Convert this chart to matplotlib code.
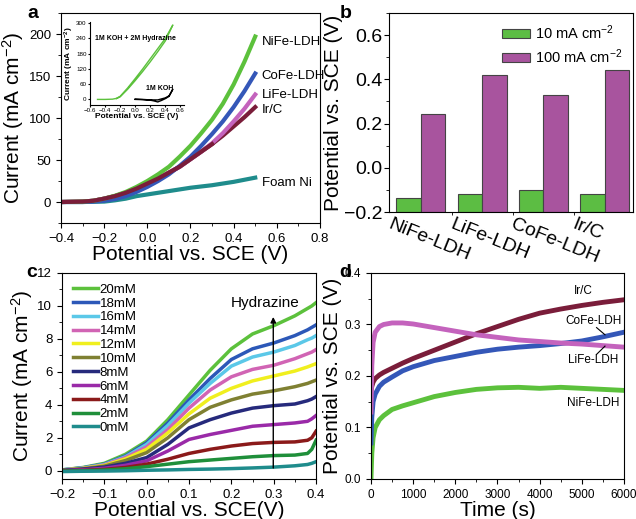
import numpy as np
import matplotlib
matplotlib.use("Agg")
import matplotlib.pyplot as plt
from matplotlib.ticker import MultipleLocator

plt.rcParams['font.family'] = ['Liberation Sans', 'DejaVu Sans']
plt.rcParams['mathtext.default'] = 'regular'
plt.rcParams['xtick.direction'] = 'out'
plt.rcParams['ytick.direction'] = 'out'

#%% data - panel a (LSV curves)
pot_a = [-0.4, -0.3, -0.25, -0.2, -0.15, -0.1, -0.05, 0.0, 0.05, 0.1, 0.15,
         0.2, 0.25, 0.3, 0.35, 0.4, 0.45, 0.5]
nife_a = [0, 0.5, 1.5, 4, 7.5, 12, 18, 25, 33, 42, 54, 67, 82, 98, 117, 140, 167, 197]
cofe_a = [0, 0, 0.5, 1.5, 3.5, 7, 12, 18, 25, 33, 43, 54, 67, 81, 96, 113, 132, 153]
life_a = [0, 0.5, 1.5, 4, 7, 11, 16, 22, 28, 35, 42, 51, 60, 70, 82, 96, 111, 128]
irc_a = [0, 0.5, 1.5, 4, 7, 11, 16, 22, 28, 35, 42, 51, 60, 69, 79, 90, 101, 113]
foam_a = [0, 0, 0.3, 0.5, 2, 4, 7, 9, 11, 13, 15, 17, 18.5, 20, 22, 24, 26.5, 29]

# inset
pot_in = [-0.5, -0.4, -0.3, -0.25, -0.2, -0.1, 0.0, 0.1, 0.2, 0.3, 0.4, 0.5,
          0.4, 0.3, 0.2, 0.1, 0.0, -0.1, -0.2, -0.25]
hyd_in = [0, 0, 1, 4, 12, 45, 82, 120, 160, 200, 240, 293,
          230, 188, 148, 110, 74, 40, 10, 3]
pot_koh = [0.0, 0.1, 0.2, 0.25, 0.3, 0.35, 0.4, 0.45, 0.5, 0.45, 0.4, 0.3, 0.2, 0.1, 0.0]
koh_in = [0, -1, -3, -6, -10, -4, 3, 12, 40, 14, 6, -2, -2, 0, 1]

#%% data - panel b (bars)
catalysts = ['NiFe-LDH', 'LiFe-LDH', 'CoFe-LDH', 'Ir/C']
pot_10 = [-0.138, -0.117, -0.100, -0.120]
pot_100 = [0.245, 0.418, 0.330, 0.444]

#%% data - panel c (hydrazine concentrations)
pot_c = [-0.2, -0.15, -0.1, -0.05, 0.0, 0.05, 0.1, 0.15, 0.2, 0.25, 0.3, 0.35, 0.38, 0.39, 0.4]
conc_labels = ['20mM', '18mM', '16mM', '14mM', '12mM', '10mM', '8mM', '6mM', '4mM', '2mM', '0mM']
cur_20 = [0.05, 0.2, 0.45, 1.0, 1.8, 3.1, 4.6, 6.1, 7.4, 8.3, 8.8, 9.4, 9.85, 10.0, 10.2]
cur_18 = [0.05, 0.18, 0.4, 0.9, 1.7, 2.9, 4.3, 5.6, 6.75, 7.4, 7.75, 8.2, 8.55, 8.7, 8.85]
cur_16 = [0.05, 0.17, 0.38, 0.85, 1.6, 2.75, 4.1, 5.3, 6.35, 6.9, 7.2, 7.6, 7.95, 8.05, 8.2]
cur_14 = [0.04, 0.15, 0.35, 0.8, 1.45, 2.5, 3.8, 4.9, 5.7, 6.15, 6.4, 6.8, 7.1, 7.2, 7.35]
cur_12 = [0.04, 0.14, 0.32, 0.72, 1.3, 2.3, 3.45, 4.4, 5.0, 5.45, 5.75, 6.05, 6.3, 6.4, 6.5]
cur_10 = [0.03, 0.12, 0.28, 0.62, 1.1, 2.0, 3.1, 3.85, 4.3, 4.65, 4.85, 5.1, 5.3, 5.4, 5.5]
cur_8 = [0.02, 0.1, 0.22, 0.45, 0.8, 1.6, 2.6, 3.1, 3.5, 3.8, 3.95, 4.05, 4.25, 4.35, 4.5]
cur_6 = [0.0, 0.06, 0.15, 0.33, 0.6, 1.2, 1.9, 2.2, 2.45, 2.7, 2.8, 2.9, 3.0, 3.15, 3.35]
cur_4 = [-0.02, 0.02, 0.08, 0.2, 0.4, 0.7, 1.05, 1.3, 1.5, 1.65, 1.72, 1.75, 1.85, 2.0, 2.4]
cur_2 = [-0.03, 0.0, 0.04, 0.12, 0.25, 0.4, 0.55, 0.65, 0.75, 0.85, 0.92, 0.95, 1.05, 1.3, 1.85]
cur_0 = [-0.05, -0.03, -0.02, 0.0, 0.03, 0.05, 0.08, 0.1, 0.13, 0.17, 0.22, 0.3, 0.38, 0.45, 0.55]
conc_colors = ['#5cc13c', '#2c58b8', '#5bc8e8', '#d164b4', '#f0ef1e', '#7f8032',
               '#262a7c', '#9a2aa8', '#8b1a1a', '#1f8f3a', '#1f8c8c']

#%% data - panel d (chronopotentiometry)
time_d = [0, 20, 50, 100, 200, 300, 500, 750, 1000, 1500, 2000, 2500, 3000,
          3500, 4000, 4500, 5000, 5500, 6000]
nife_d = [0.0, 0.05, 0.08, 0.10, 0.115, 0.123, 0.135, 0.142, 0.148, 0.16, 0.168,
          0.174, 0.177, 0.178, 0.176, 0.178, 0.176, 0.174, 0.172]
cofe_d = [0.07, 0.12, 0.15, 0.165, 0.18, 0.188, 0.198, 0.21, 0.218, 0.23, 0.238,
          0.246, 0.252, 0.256, 0.259, 0.263, 0.268, 0.276, 0.285]
life_d = [0.13, 0.22, 0.265, 0.285, 0.296, 0.300, 0.303, 0.303, 0.301, 0.294, 0.287,
          0.28, 0.275, 0.27, 0.267, 0.264, 0.262, 0.259, 0.256]
irc_d = [0.17, 0.18, 0.188, 0.195, 0.202, 0.207, 0.215, 0.225, 0.234, 0.25, 0.266,
         0.282, 0.296, 0.31, 0.322, 0.33, 0.337, 0.343, 0.348]

green = '#5cc13c'
blue = '#3457b8'
pink = '#c463bd'
maroon = '#7a1d3a'
teal = '#1f8c8c'

fig = plt.figure(figsize=(6.36, 5.19), dpi=100)

#%% panel a
ax = fig.add_axes([0.0959, 0.5703, 0.4072, 0.4046])
ax.plot(pot_a, foam_a, color=teal, lw=3)
ax.plot(pot_a, irc_a, color=maroon, lw=3)
ax.plot(pot_a, life_a, color=pink, lw=3)
ax.plot(pot_a, cofe_a, color=blue, lw=3)
ax.plot(pot_a, nife_a, color=green, lw=3)
ax.plot(pot_a[:14], irc_a[:14], color=maroon, lw=3)
ax.set_xlim(-0.4, 0.8)
ax.set_ylim(-25, 225)
ax.xaxis.set_major_locator(MultipleLocator(0.2))
ax.xaxis.set_minor_locator(MultipleLocator(0.1))
ax.yaxis.set_major_locator(MultipleLocator(50))
ax.yaxis.set_minor_locator(MultipleLocator(25))
ax.tick_params(labelsize=9.5)
ax.set_xlabel('Potential vs. SCE (V)', fontsize=15, labelpad=0)
ax.set_ylabel('Current (mA cm$^{-2}$)', fontsize=15, labelpad=2)
for name, yv in zip(['NiFe-LDH', 'CoFe-LDH', 'LiFe-LDH', 'Ir/C', 'Foam Ni'],
                    [190, 150, 127, 110, 23]):
    ax.text(0.53, yv, name, fontsize=9.5, va='center')
ax.text(-0.13, 1.0, 'a', transform=ax.transAxes, fontsize=14, fontweight='bold', va='center')

ins = fig.add_axes([0.1415, 0.7977, 0.148, 0.16])
ins.plot(pot_in, hyd_in, color=green, lw=1)
ins.plot(pot_koh, koh_in, color='black', lw=1)
ins.set_xlim(-0.6, 0.65)
ins.set_ylim(-22, 305)
ins.spines['top'].set_visible(False)
ins.spines['right'].set_visible(False)
ins.patch.set_alpha(0)
ins.xaxis.set_major_locator(MultipleLocator(0.2))
ins.yaxis.set_major_locator(MultipleLocator(60))
ins.tick_params(labelsize=4.5, length=1.5, pad=1)
ins.set_xlabel('Potential vs. SCE (V)', fontsize=6, fontweight='bold', labelpad=0)
ins.set_ylabel('Current (mA cm$^{-2}$)', fontsize=6, fontweight='bold', labelpad=0)
ins.text(-0.53, 240, '1M KOH + 2M Hydrazine', fontsize=5, fontweight='bold', va='center')
ins.text(0.15, 42, '1M KOH', fontsize=5, fontweight='bold', va='center')

#%% panel b
bx = fig.add_axes([0.6116, 0.5915, 0.3836, 0.3834])
xs = np.arange(len(catalysts))
bx.bar(xs - 0.2, [p + 0.2 for p in pot_10], 0.4, bottom=-0.2, color='#5cbd43',
       edgecolor='#444444', lw=0.8, label='10 mA cm$^{-2}$')
bx.bar(xs + 0.2, [p + 0.2 for p in pot_100], 0.4, bottom=-0.2, color='#a8549e',
       edgecolor='#444444', lw=0.8, label='100 mA cm$^{-2}$')
bx.set_xlim(-0.52, 3.46)
bx.set_ylim(-0.2, 0.7)
bx.set_xticks(xs - 0.46)
bx.set_xticklabels(catalysts, rotation=-22, ha='left', va='top',
                   rotation_mode='anchor', fontsize=14)
bx.set_xticks([0.5, 1.5, 2.5], minor=True)
bx.tick_params(axis='x', which='major', length=0, pad=3)
bx.yaxis.set_major_locator(MultipleLocator(0.2))
bx.yaxis.set_minor_locator(MultipleLocator(0.1))
bx.tick_params(axis='y', labelsize=14, pad=1)
bx.set_ylabel('Potential vs. SCE (V)', fontsize=15, labelpad=1)
bx.legend(loc='upper right', frameon=False, fontsize=10.5, handlelength=1.9,
          handleheight=0.6, borderaxespad=0.3, labelspacing=0.35, handletextpad=0.4)
bx.text(-0.2, 1.0, 'b', transform=bx.transAxes, fontsize=14, fontweight='bold', va='center')

#%% panel c
cx = fig.add_axes([0.0975, 0.0771, 0.3994, 0.3969])
curves_c = [cur_20, cur_18, cur_16, cur_14, cur_12, cur_10, cur_8, cur_6, cur_4, cur_2, cur_0]
for lab, cur, col in zip(conc_labels, curves_c, conc_colors):
    cx.plot(pot_c, cur, color=col, lw=2.5, label=lab)
cx.set_xlim(-0.2, 0.4)
cx.set_ylim(-0.5, 12)
cx.xaxis.set_major_locator(MultipleLocator(0.1))
cx.xaxis.set_minor_locator(MultipleLocator(0.05))
cx.yaxis.set_major_locator(MultipleLocator(2))
cx.yaxis.set_minor_locator(MultipleLocator(1))
cx.tick_params(labelsize=9.5)
cx.set_xlabel('Potential vs. SCE(V)', fontsize=15, labelpad=0)
cx.set_ylabel('Current (mA cm$^{-2}$)', fontsize=15, labelpad=2)
cx.legend(loc='upper left', frameon=False, fontsize=9.5, handlelength=1.9,
          labelspacing=0.12, handletextpad=0.15, borderaxespad=0.4)
cx.annotate('', xy=(0.299, 9.5), xytext=(0.299, 0.0),
            arrowprops=dict(arrowstyle='-|>', color='black', lw=1, mutation_scale=8))
cx.text(0.28, 10.15, 'Hydrazine', fontsize=11, ha='center', va='center')
cx.text(-0.14, 1.0, 'c', transform=cx.transAxes, fontsize=14, fontweight='bold', va='center')

#%% panel d
dx = fig.add_axes([0.5833, 0.0771, 0.3978, 0.3969])
dx.plot(time_d, nife_d, color=green, lw=3.5)
dx.plot(time_d, cofe_d, color=blue, lw=3.5)
dx.plot(time_d, irc_d, color=maroon, lw=3.5)
dx.plot(time_d, life_d, color=pink, lw=3.5)
dx.set_xlim(0, 6000)
dx.set_ylim(0, 0.4)
dx.xaxis.set_major_locator(MultipleLocator(1000))
dx.xaxis.set_minor_locator(MultipleLocator(500))
dx.yaxis.set_major_locator(MultipleLocator(0.1))
dx.yaxis.set_minor_locator(MultipleLocator(0.05))
dx.tick_params(labelsize=8.5)
dx.set_xlabel('Time (s)', fontsize=15, labelpad=0)
dx.set_ylabel('Potential vs. SCE (V)', fontsize=15, labelpad=2)
dx.text(5030, 0.366, 'Ir/C', fontsize=8.5, ha='center', va='center')
dx.text(5270, 0.306, 'CoFe-LDH', fontsize=8.5, ha='center', va='center')
dx.text(5270, 0.231, 'LiFe-LDH', fontsize=8.5, ha='center', va='center')
dx.text(5270, 0.147, 'NiFe-LDH', fontsize=8.5, ha='center', va='center')
dx.plot([5350, 5550], [0.294, 0.280], color='black', lw=0.8)
dx.plot([5350, 5550], [0.242, 0.258], color='black', lw=0.8)
dx.text(-0.1, 1.0, 'd', transform=dx.transAxes, fontsize=14, fontweight='bold',
        va='center', ha='center')

fig.savefig('out.png', dpi=100)
